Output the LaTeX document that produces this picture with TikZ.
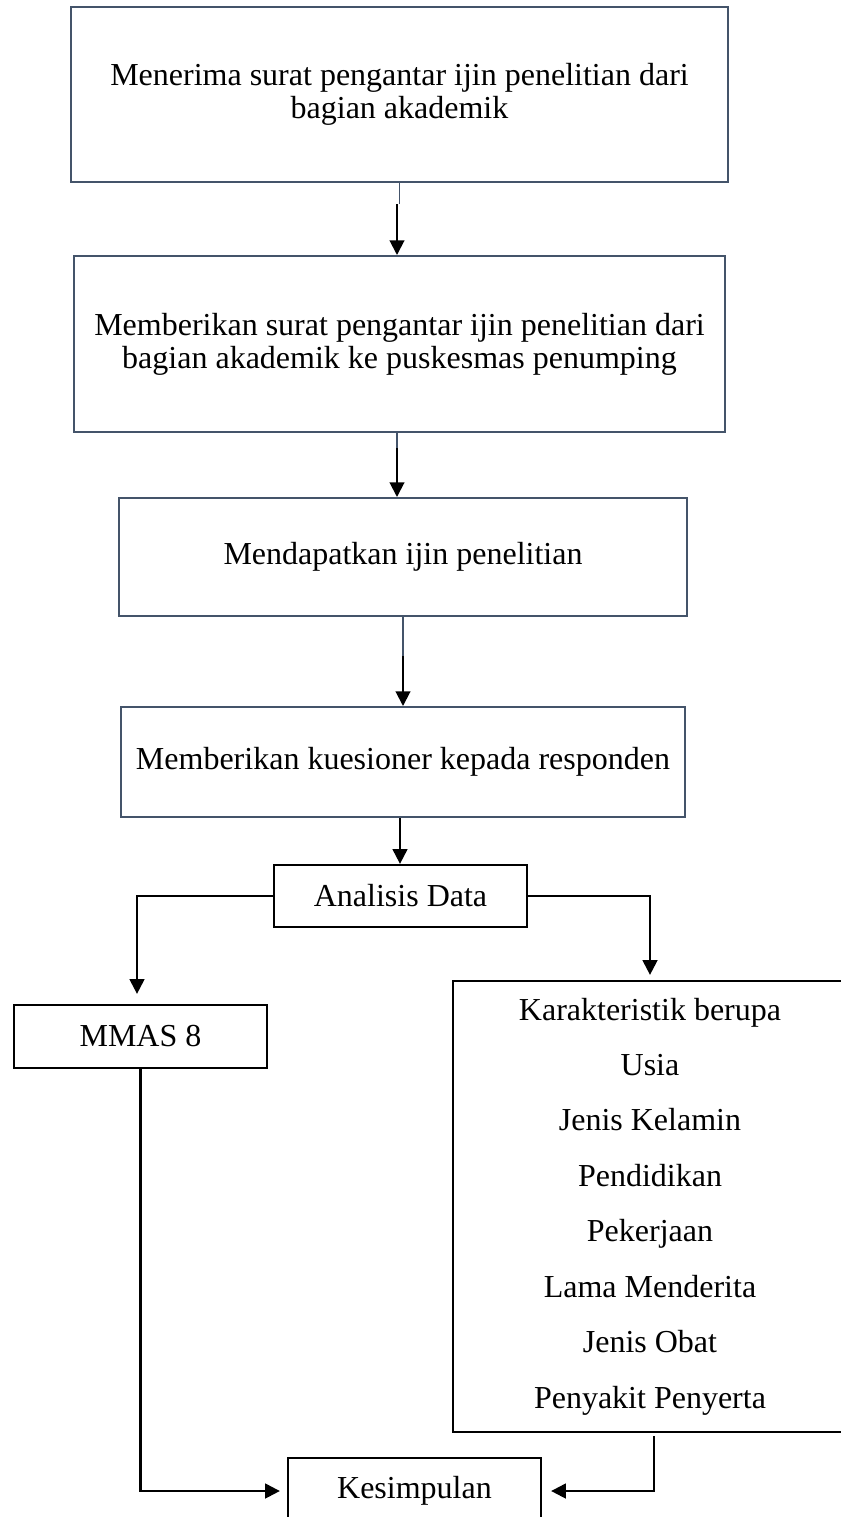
\documentclass[tikz,border=0pt]{standalone}
\usepackage{fontspec}
\setmainfont{Liberation Serif}
\usetikzlibrary{arrows.meta,calc}
\definecolor{slate}{HTML}{44546A}
\begin{document}
\begin{tikzpicture}[x=0.75pt,y=-0.75pt,
  txt/.style={font=\fontsize{24}{24.75}\selectfont, align=center, inner sep=0pt},
  topbox/.style={txt, draw=slate, line width=1.5pt},
  lowbox/.style={txt, draw=black, line width=1.7pt},
  arr/.style={-{Triangle[length=11pt,width=11pt]}, line width=1.5pt, black},
  arrb/.style={-{Triangle[length=11pt,width=11pt]}, line width=1.7pt, black},
  thinln/.style={draw=slate, line width=0.9pt}]
\fill[white] (0,0) rectangle (841,1517);
\useasboundingbox (0,0) rectangle (841,1517);

\node[topbox, minimum width=492.75pt, minimum height=131.25pt] (b1) at (399.5,94.5)
  {Menerima surat pengantar ijin penelitian dari\\bagian akademik};
\node[topbox, minimum width=488.25pt, minimum height=132pt] (b2) at (399.5,344)
  {Memberikan surat pengantar ijin penelitian dari\\bagian akademik ke puskesmas penumping};
\node[topbox, minimum width=426pt, minimum height=88.5pt] (b3) at (403,557)
  {Mendapatkan ijin penelitian};
\node[topbox, minimum width=423pt, minimum height=82.5pt] (b4) at (403,762)
  {Memberikan kuesioner kepada responden};

\node[lowbox, minimum width=189.75pt, minimum height=46.5pt] (ad) at (400.5,896) {Analisis Data};
\node[lowbox, minimum width=189.75pt, minimum height=47.25pt] (mm) at (140.5,1036.5) {MMAS 8};
\node[lowbox, font=\fontsize{24}{41.6}\selectfont, minimum width=295.5pt, minimum height=338.25pt] (rb) at (650,1206.5)
  {Karakteristik berupa\\Usia\\Jenis Kelamin\\Pendidikan\\Pekerjaan\\Lama Menderita\\Jenis Obat\\Penyakit Penyerta};
\node[lowbox, minimum width=189.75pt, minimum height=49.5pt] (ks) at (414.5,1491) {Kesimpulan};

% top connectors
\coordinate (a1) at (397,204);
\coordinate (a2) at (397,448);
\coordinate (a3) at (403,656);
\coordinate (a4) at (400,817);
\draw[thinln] (b1.south) -- (b1.south |- a1);
\draw[arr] (a1) -- (a1 |- b2.north);
\draw[thinln] (b2.south -| a2) -- (a2);
\draw[arr] (a2) -- (a2 |- b3.north);
\draw[thinln] (b3.south) -- (b3.south |- a3);
\draw[arr] (a3) -- (a3 |- b4.north);
\draw[arr] (b4.south -| a4) -- (a4 |- ad.north);

% lower connectors
\coordinate (c1) at (137,0);
\coordinate (c2) at (650,0);
\coordinate (c3) at (654,0);
\draw[arrb, shorten >=7.5pt] (ad.west) -| (c1 |- mm.north);
\draw[arrb, shorten >=3.75pt] (ad.east) -| (c2 |- rb.north);
\draw[arrb, shorten >=5.25pt] (mm.south) |- (ks.west);
\draw[arrb, shorten <=2.25pt, shorten >=6.75pt] (rb.south -| c3) |- (ks.east);
\end{tikzpicture}
\end{document}
